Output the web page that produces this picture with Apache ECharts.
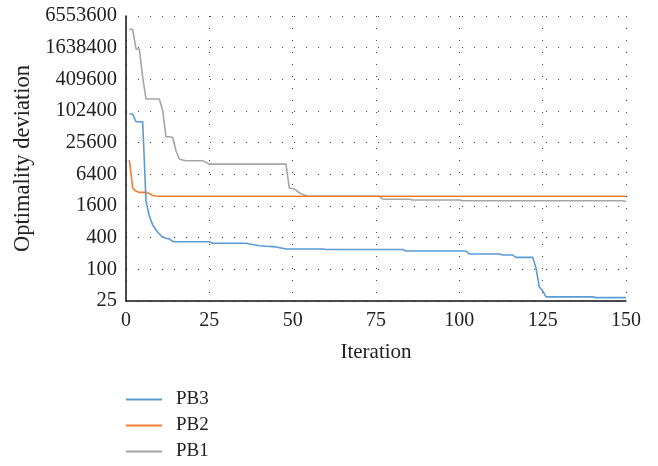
<!DOCTYPE html>
<html>
<head>
<meta charset="utf-8">
<script src="https://cdn.jsdelivr.net/npm/echarts@6/dist/echarts.min.js"></script>
<style>
  html, body { margin: 0; padding: 0; background: #fff; }
  #chart { width: 658px; height: 466px; }
</style>
</head>
<body>
<div id="chart"></div>
<script>
const iterations = [1,2,3,4,5,6,7,8,9,10,11,12,13,14,15,16,17,18,19,20,21,22,23,24,25,26,27,28,29,30,31,32,33,34,35,36,37,38,39,40,41,42,43,44,45,46,47,48,49,50,51,52,53,54,55,56,57,58,59,60,61,62,63,64,65,66,67,68,69,70,71,72,73,74,75,76,77,78,79,80,81,82,83,84,85,86,87,88,89,90,91,92,93,94,95,96,97,98,99,100,101,102,103,104,105,106,107,108,109,110,111,112,113,114,115,116,117,118,119,120,121,122,123,124,125,126,127,128,129,130,131,132,133,134,135,136,137,138,139,140,141,142,143,144,145,146,147,148,149,150];

const pb1 = [3660000,3660000,1550000,1550000,450000,173000,173000,173000,173000,173000,
  105000,33200,33200,32000,18000,12500,12000,11600,11600,11600,
  11600,11600,11600,10800,10000,10000,10000,10000,10000,10000,
  10000,10000,10000,10000,10000,10000,10000,10000,10000,10000,
  10000,10000,10000,10000,10000,10000,10000,10000,3480,3450,
  3210,2850,2660,2500,2450,2450,2450,2450,2450,2450,
  2450,2450,2450,2450,2450,2450,2450,2450,2450,2450,
  2450,2450,2450,2450,2450,2450,2170,2150,2150,2150,
  2150,2150,2150,2150,2150,2080,2080,2080,2080,2080,
  2080,2080,2080,2080,2080,2080,2080,2080,2080,2080,
  2020,2020,2020,2020,2020,2020,2020,2020,2020,2020,
  2020,2020,2020,2020,2020,2020,2020,2020,2020,2020,
  2020,2020,2020,2020,2020,2020,2020,2020,2020,2020,
  2020,2020,2020,2020,2020,2020,2020,2020,2020,2020,
  2020,2020,2020,2020,2020,2020,2020,2020,2020,1940];

const pb2 = [12000,3500,3080,2900,2900,2900,2760,2530,2480,2450,
  2450,2450,2450,2450,2450,2450,2450,2450,2450,2450,
  2450,2450,2450,2450,2450,2450,2450,2450,2450,2450,
  2450,2450,2450,2450,2450,2450,2450,2450,2450,2450,
  2450,2450,2450,2450,2450,2450,2450,2450,2450,2450,
  2450,2450,2450,2450,2450,2450,2450,2450,2450,2450,
  2450,2450,2450,2450,2450,2450,2450,2450,2450,2450,
  2450,2450,2450,2450,2450,2450,2450,2450,2450,2450,
  2450,2450,2450,2450,2450,2450,2450,2450,2450,2450,
  2450,2450,2450,2450,2450,2450,2450,2450,2450,2450,
  2450,2450,2450,2450,2450,2450,2450,2450,2450,2450,
  2450,2450,2450,2450,2450,2450,2450,2450,2450,2450,
  2450,2450,2450,2450,2450,2450,2450,2450,2450,2450,
  2450,2450,2450,2450,2450,2450,2450,2450,2450,2450,
  2450,2450,2450,2450,2450,2450,2450,2450,2450,2450];

const pb3 = [90000,90000,64000,64000,64000,2000,1030,700,560,470,
  410,390,380,340,335,335,335,335,335,335,
  335,335,335,335,335,313,313,313,313,313,
  313,313,313,313,313,313,303,297,290,281,
  278,275,272,270,265,258,251,245,243,243,
  243,243,243,243,243,243,243,243,243,239,
  239,239,239,239,239,239,239,239,239,239,
  239,239,239,239,239,239,239,239,239,239,
  239,239,239,223,223,223,223,223,223,223,
  223,223,223,223,223,223,223,223,223,223,
  223,223,196,196,196,196,196,196,196,196,
  196,196,187,187,187,187,169,169,169,169,
  169,169,106,46,39,30,30,30,30,30,
  30,30,30,30,30,30,30,30,30,30,
  29,29,29,29,29,29,29,29,29,29];

const yTicks = [25,100,400,1600,6400,25600,102400,409600,1638400,6553600];
const xTicks = [0,25,50,75,100,125,150];
const seriesNames = ['PB1','PB2','PB3'];
const legendOrder = ['PB3','PB2','PB1'];
const colors = { PB1: '#A5A5A5', PB2: '#ED7D31', PB3: '#5B9BD5' };
const seriesValues = { PB1: pb1, PB2: pb2, PB3: pb3 };

const FONT = 'Liberation Serif';
const chart = echarts.init(document.getElementById('chart'), null, { renderer: 'canvas' });

const dotted = { color: '#444', width: 1, type: [1, 11] };

chart.setOption({
  animation: false,
  backgroundColor: '#fff',
  grid: { left: 126, right: 32, top: 16, bottom: 165, containLabel: false },
  xAxis: {
    type: 'value',
    min: xTicks[0],
    max: xTicks[xTicks.length - 1],
    interval: 25,
    name: 'Iteration',
    nameLocation: 'middle',
    nameGap: 41,
    nameTextStyle: { fontFamily: FONT, fontSize: 21, color: '#222' },
    axisLine: { show: true, lineStyle: { color: '#111', width: 1.5 } },
    axisTick: { show: false },
    axisLabel: { fontFamily: FONT, fontSize: 20, color: '#222', margin: 10 },
    splitLine: { show: true, lineStyle: dotted }
  },
  yAxis: {
    type: 'log',
    logBase: 4,
    min: yTicks[0],
    max: yTicks[yTicks.length - 1],
    name: 'Optimality deviation',
    nameLocation: 'middle',
    nameGap: 87,
    nameTextStyle: { fontFamily: FONT, fontSize: 22.5, color: '#222' },
    axisLine: { show: true, lineStyle: { color: '#111', width: 1.5 } },
    axisTick: { show: false, customValues: yTicks },
    axisLabel: {
      fontFamily: FONT, fontSize: 20.5, color: '#222', margin: 9,
      customValues: yTicks,
      formatter: function (v) { return String(Math.round(v)); }
    },
    splitLine: { show: true, lineStyle: dotted }
  },
  legend: {
    orient: 'vertical',
    left: 121,
    top: 385,
    height: 80,
    itemWidth: 36,
    itemHeight: 14,
    itemGap: 7,
    data: legendOrder,
    textStyle: { fontFamily: FONT, fontSize: 19, color: '#222', padding: [0, 0, 0, 9] },
    icon: 'path://M0,0 L36,0 L36,2 L0,2 Z'
  },
  series: seriesNames.map(function (n) {
    return {
      name: n,
      type: 'line',
      symbol: 'none',
      color: colors[n],
      lineStyle: { width: 1.6, color: colors[n] },
      data: iterations.map(function (x, i) { return [x, seriesValues[n][i]]; })
    };
  })
});
</script>
</body>
</html>
